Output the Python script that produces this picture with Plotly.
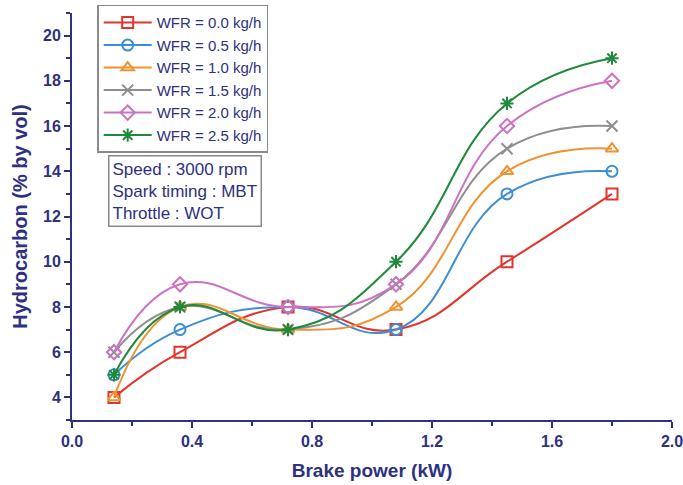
import plotly.graph_objects as go

brake_power = [0.14, 0.36, 0.72, 1.08, 1.45, 1.80]
series_names = ["WFR = 0.0 kg/h", "WFR = 0.5 kg/h", "WFR = 1.0 kg/h",
                "WFR = 1.5 kg/h", "WFR = 2.0 kg/h", "WFR = 2.5 kg/h"]
hc_00 = [4, 6, 8, 7, 10, 13]
hc_05 = [5, 7, 8, 7, 13, 14]
hc_10 = [4, 8, 7, 8, 14, 15]
hc_15 = [6, 8, 7, 9, 15, 16]
hc_20 = [6, 9, 8, 9, 16, 18]
hc_25 = [5, 8, 7, 10, 17, 19]
series_values = [hc_00, hc_05, hc_10, hc_15, hc_20, hc_25]

colors = ["#E3342B", "#3D8FD1", "#F0922F", "#8F8F8F", "#CC72C2", "#1F8A3B"]
symbols = ["square-open", "circle-open", "triangle-up-open", "x-thin-open",
           "diamond-open", "asterisk-open"]
navy = "#2E3180"
font_family = "Liberation Sans, Arial"

fig = go.Figure()
for name, vals, c, s in zip(series_names, series_values, colors, symbols):
    fig.add_trace(go.Scatter(
        x=brake_power, y=vals, name=name, mode="lines+markers",
        line=dict(color=c, width=2, shape="spline", smoothing=1.3),
        marker=dict(symbol=s, size=11, color=c, line=dict(color=c, width=2)),
    ))

axis_common = dict(
    showline=True, linecolor=navy, linewidth=2,
    ticks="outside", tickcolor=navy, tickwidth=2, ticklen=6,
    showgrid=False, zeroline=False, mirror=False, automargin=False,
    ticklabeloverflow="allow",
    tickfont=dict(family=font_family, size=16, color=navy, weight="bold"),
)

fig.update_layout(
    width=683, height=485,
    margin=dict(l=72, r=11, t=13, b=65, autoexpand=False),
    paper_bgcolor="white", plot_bgcolor="white",
    font=dict(family=font_family, color=navy),
    xaxis=dict(range=[0, 2.0], dtick=0.4, tick0=0, tickformat=".1f",
               minor=dict(dtick=0.2, ticks="outside", ticklen=4,
                          tickcolor=navy, tickwidth=2),
               title=dict(text="<b>Brake power (kW)</b>", standoff=14,
                          font=dict(size=19, color=navy)),
               **axis_common),
    yaxis=dict(range=[3, 21], dtick=2, tick0=0,
               minor=dict(dtick=1, ticks="outside", ticklen=4,
                          tickcolor=navy, tickwidth=2),
               title=dict(text="<b>Hydrocarbon (% by vol)</b>", standoff=10,
                          font=dict(size=20, color=navy)),
               **axis_common),
    legend=dict(x=0.042, y=1.02, xanchor="left", yanchor="top",
                bgcolor="white", bordercolor="#8A8A8A", borderwidth=1.5,
                font=dict(family=font_family, size=15, color=navy),
                tracegroupgap=0, itemwidth=48),
    showlegend=True,
)

fig.add_annotation(
    xref="paper", yref="paper", x=0.06, y=0.652, xanchor="left", yanchor="top",
    text="Speed : 3000 rpm<br>Spark timing : MBT<br>Throttle : WOT",
    showarrow=False, align="left",
    font=dict(size=17, color=navy),
    bordercolor="#8A8A8A", borderwidth=1.5, borderpad=3, bgcolor="white",
)

fig.write_html("out.html")
